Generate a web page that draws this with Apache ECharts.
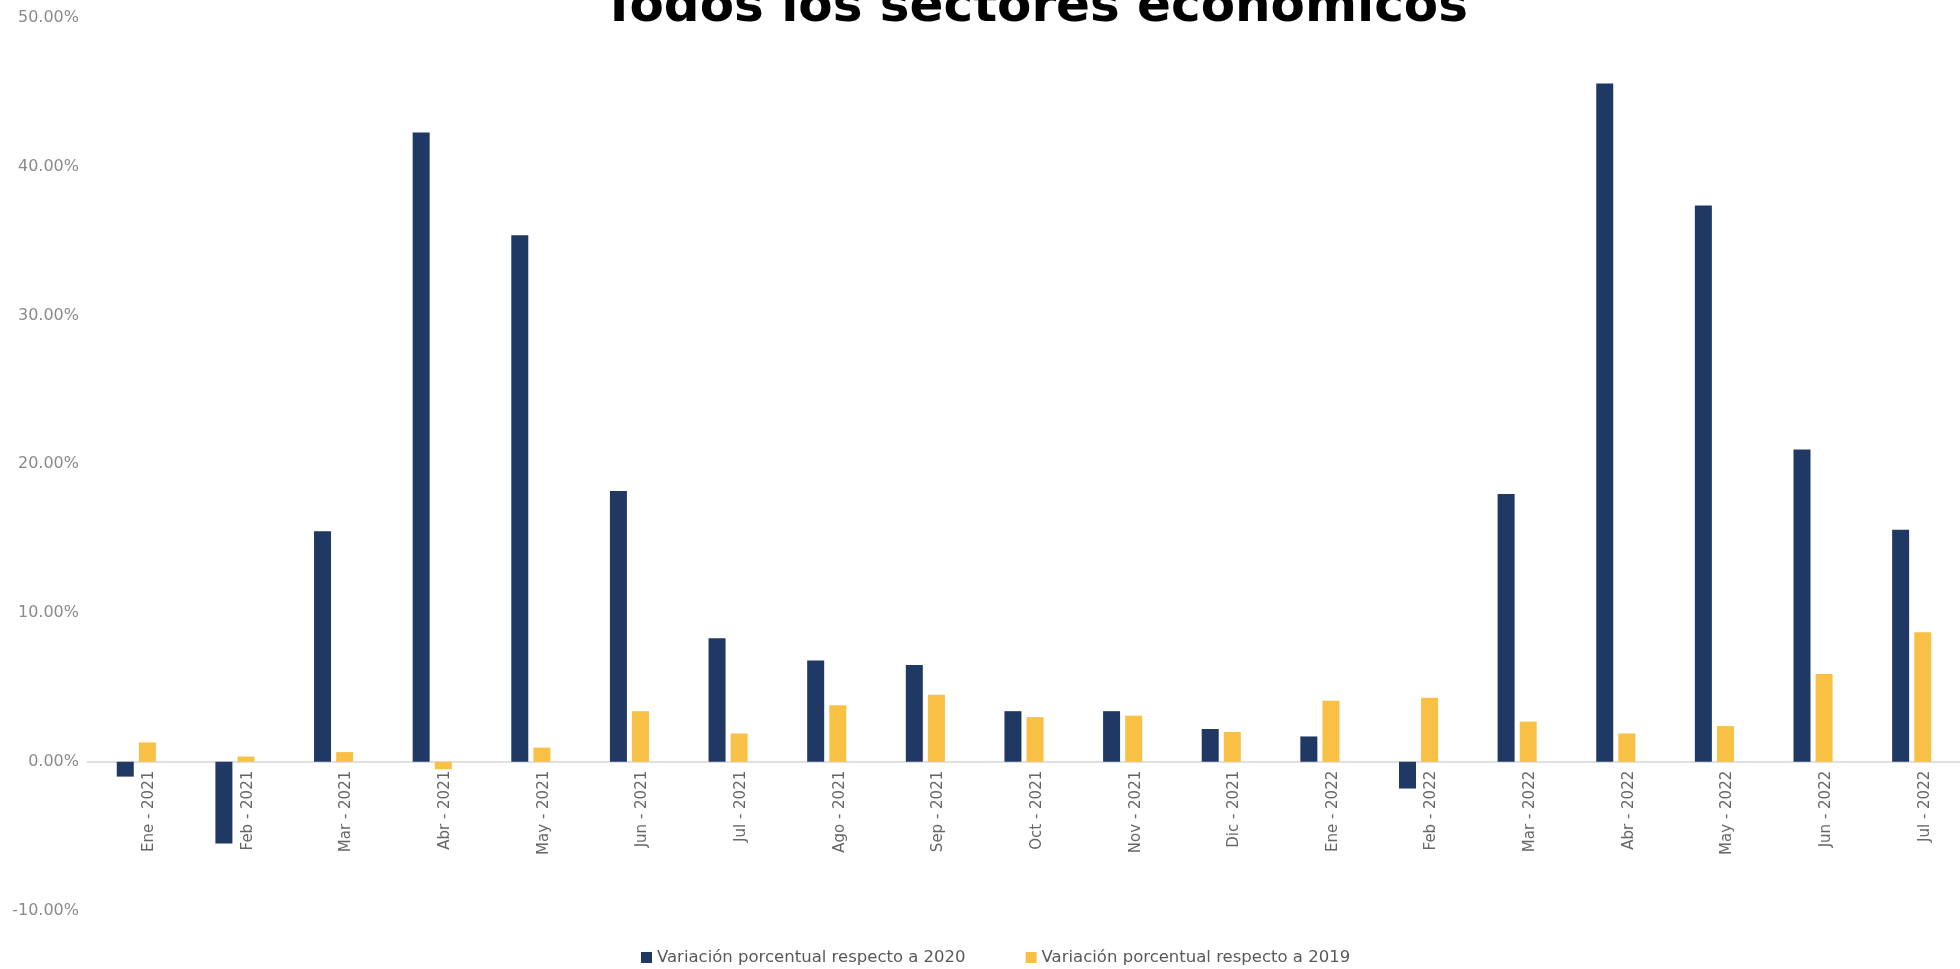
<!DOCTYPE html>
<html>
<head>
<meta charset="utf-8">
<title>Todos los sectores económicos</title>
<script src="https://cdn.jsdelivr.net/npm/echarts@6/dist/echarts.min.js"></script>
<style>
  html, body { margin: 0; padding: 0; background: #ffffff; }
  #chart { width: 1960px; height: 969px; }
</style>
</head>
<body>
<div id="chart"></div>
<script>
// Month labels (Spanish abbreviations) for Jan 2021 – Jul 2022
const categories = [
  'Ene - 2021', 'Feb - 2021', 'Mar - 2021', 'Abr - 2021', 'May - 2021', 'Jun - 2021',
  'Jul - 2021', 'Ago - 2021', 'Sep - 2021', 'Oct - 2021', 'Nov - 2021', 'Dic - 2021',
  'Ene - 2022', 'Feb - 2022', 'Mar - 2022', 'Abr - 2022', 'May - 2022', 'Jun - 2022',
  'Jul - 2022'
];

// Percentage change versus the same month of 2020
const variacion2020 = [
  -1.0, -5.5, 15.5, 42.3, 35.4, 18.2,
  8.3, 6.8, 6.5, 3.4, 3.4, 2.2,
  1.7, -1.8, 18.0, 45.6, 37.4, 21.0,
  15.6
];

// Percentage change versus the same month of 2019
const variacion2019 = [
  1.3, 0.35, 0.65, -0.5, 0.95, 3.4,
  1.9, 3.8, 4.5, 3.0, 3.1, 2.0,
  4.1, 4.3, 2.7, 1.9, 2.4, 5.9,
  8.7
];

const seriesNames = [
  'Variación porcentual respecto a 2020',
  'Variación porcentual respecto a 2019'
];

// Value axis range and step (percent)
const yMin = -10;
const yMax = 50;
const yStep = 10;

// Plot area
const gridTop = 18;
const gridBottom = 58.5;
const gridHeight = 969 - gridTop - gridBottom;
// Lift the category axis (line + labels) from the bottom edge up to the 0% level
const zeroOffset = -gridHeight * (0 - yMin) / (yMax - yMin);

const chart = echarts.init(document.getElementById('chart'), null, { renderer: 'canvas' });

chart.setOption({
  animation: false,
  backgroundColor: '#ffffff',
  title: {
    text: 'Todos los sectores económicos',
    left: 1035,
    top: -17,
    padding: 0,
    textAlign: 'center',
    textStyle: {
      fontFamily: 'DejaVu Sans',
      fontWeight: 'bold',
      fontSize: 50,
      color: '#000000'
    }
  },
  legend: {
    left: 641,
    top: 949,
    padding: 0,
    itemWidth: 11,
    itemHeight: 11,
    itemGap: 60,
    icon: 'rect',
    textStyle: {
      fontFamily: 'DejaVu Sans',
      fontSize: 16.5,
      color: '#595959'
    },
    data: seriesNames
  },
  grid: {
    left: 87,
    width: 1874,
    top: gridTop,
    bottom: gridBottom,
    containLabel: false,
    outerBoundsMode: 'none'
  },
  xAxis: {
    type: 'category',
    data: categories,
    boundaryGap: true,
    offset: zeroOffset,
    axisLine: { show: true, onZero: false, lineStyle: { color: '#d6d6d6', width: 1.5 } },
    axisTick: { show: false },
    splitLine: { show: false },
    axisLabel: {
      interval: 0,
      rotate: 90,
      margin: 9,
      verticalAlign: 'top',
      lineHeight: 26,
      fontFamily: 'DejaVu Sans',
      fontSize: 15,
      color: '#666666'
    }
  },
  yAxis: {
    type: 'value',
    min: yMin,
    max: yMax,
    interval: yStep,
    axisLine: { show: false },
    axisTick: { show: false },
    splitLine: { show: false },
    axisLabel: {
      margin: 8,
      fontFamily: 'DejaVu Sans',
      fontSize: 16,
      color: '#8a8a8a',
      formatter: (v) => v.toFixed(2) + '%'
    }
  },
  series: [
    {
      name: seriesNames[0],
      type: 'bar',
      data: variacion2020,
      barWidth: 17,
      barGap: '30%',
      itemStyle: { color: '#203864' }
    },
    {
      name: seriesNames[1],
      type: 'bar',
      data: variacion2019,
      barWidth: 17,
      barGap: '30%',
      itemStyle: { color: '#F8C145' }
    }
  ]
});
</script>
</body>
</html>
